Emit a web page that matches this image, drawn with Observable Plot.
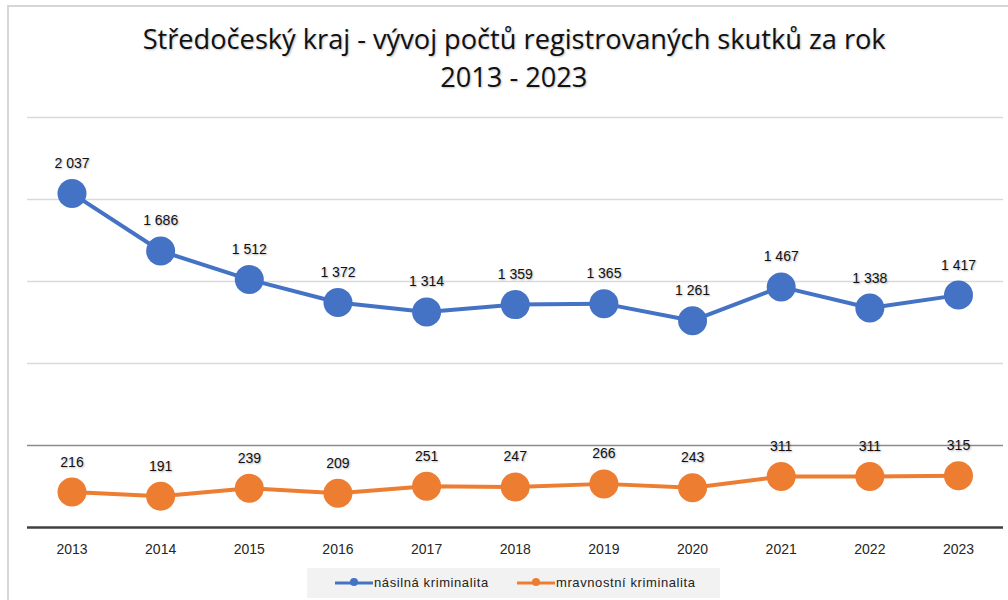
<!DOCTYPE html>
<html>
<head>
<meta charset="utf-8">
<script src="https://cdn.jsdelivr.net/npm/d3@7"></script>
<script src="https://cdn.jsdelivr.net/npm/@observablehq/plot@0.6"></script>
<style>
  html, body { margin: 0; padding: 0; background: #fff; }
  body { width: 1008px; height: 600px; overflow: hidden; position: relative; font-family: "Open Sans", "Liberation Sans", sans-serif; }
  #frame { position: absolute; left: 7px; top: 5px; width: 1100px; height: 700px; border-left: 2px solid #d6d6d6; border-top: 2px solid #d6d6d6; }
  #title { position: relative; height: 100px; }
  .tline { position: absolute; left: 10px; width: 1008px; text-align: center; font-size: 26.5px; line-height: 1; color: #111; }
  .tline span { display: inline-block; transform-origin: center; white-space: nowrap; text-shadow: 1px 1px 2px rgba(0,0,0,0.25); }
  #chart { position: relative; height: 465px; }
  #chart svg { display: block; }
  #chart g[aria-label="text"] text { text-shadow: 1px 1px 2px rgba(0,0,0,0.3); }
  #legend { position: absolute; left: 307px; top: 568px; width: 413px; height: 30px; background: #f2f2f2; font-family: "Liberation Sans", sans-serif; font-size: 13px; letter-spacing: 0.6px; color: #222; }
  .sw { position: absolute; top: 10px; }
  .lt { position: absolute; top: 7px; white-space: nowrap; }
</style>
</head>
<body>
<div id="frame"></div>
<div id="title"></div>
<div id="chart"></div>
<div id="legend"></div>
<script>
// ---- data ----
const titleLines = ["Středočeský kraj - vývoj počtů registrovaných skutků za rok", "2013 - 2023"];
const years = [2013, 2014, 2015, 2016, 2017, 2018, 2019, 2020, 2021, 2022, 2023];
const nasilna = [2037, 1686, 1512, 1372, 1314, 1359, 1365, 1261, 1467, 1338, 1417];
const mravnostni = [216, 191, 239, 209, 251, 247, 266, 243, 311, 311, 315];
const seriesNames = ["násilná kriminalita", "mravnostní kriminalita"];
const seriesColors = ["#4472C4", "#ED7D31"];
const gridLight = [1000, 1500, 2000, 2500];
const gridMid = [500];

// ---- title ----
const title = document.getElementById("title");
const titleTops = [25.5, 63.5];
const targetW = 743;
let scale = 1;
titleLines.forEach((t, i) => {
  const d = document.createElement("div");
  d.className = "tline";
  d.style.top = titleTops[i] + "px";
  const s = document.createElement("span");
  s.textContent = t;
  d.appendChild(s);
  title.appendChild(d);
  if (i === 0) scale = targetW / s.getBoundingClientRect().width;
});
title.querySelectorAll(".tline span").forEach(s => s.style.transform = `scaleX(${scale})`);

// ---- chart ----
const cz = d3.formatLocale({decimal: ",", thousands: "\u00a0", grouping: [3], currency: ["", " Kč"]});
const fmt = cz.format(",d");
const rowsA = years.map((y, i) => ({year: y, value: nasilna[i]}));
const rowsB = years.map((y, i) => ({year: y, value: mravnostni[i]}));

const chart = Plot.plot({
  width: 1008,
  height: 465,
  marginTop: 17,
  marginBottom: 38,
  marginLeft: 27,
  marginRight: 5,
  style: {fontFamily: "Liberation Sans, sans-serif", background: "transparent", overflow: "visible"},
  x: {type: "point", domain: years, padding: 0, round: false, range: [71.5, 958], label: null},
  y: {domain: [0, 2500], axis: null},
  marks: [
    Plot.ruleY(gridLight, {stroke: "#d9d9d9", strokeWidth: 1.5}),
    Plot.ruleY(gridMid, {stroke: "#8c8c8c", strokeWidth: 1.5}),
    Plot.ruleY([0], {stroke: "#404040", strokeWidth: 2.5}),
    Plot.axisX({tickSize: 0, tickPadding: 17, fontSize: 14, fill: "#262626", label: null, tickFormat: d => String(d)}),
    Plot.line(rowsA, {x: "year", y: "value", stroke: seriesColors[0], strokeWidth: 4}),
    Plot.dot(rowsA, {x: "year", y: "value", r: 14.5, fill: seriesColors[0]}),
    Plot.text(rowsA, {x: "year", y: "value", text: d => fmt(d.value), dy: -30, fontSize: 14, fill: "#111"}),
    Plot.line(rowsB, {x: "year", y: "value", stroke: seriesColors[1], strokeWidth: 4}),
    Plot.dot(rowsB, {x: "year", y: "value", r: 14.5, fill: seriesColors[1]}),
    Plot.text(rowsB, {x: "year", y: "value", text: d => fmt(d.value), dy: -30, fontSize: 14, fill: "#111"})
  ]
});
document.getElementById("chart").appendChild(chart);

// ---- legend ----
const legend = document.getElementById("legend");
const swLeft = [28, 210];
seriesNames.forEach((name, i) => {
  const sw = document.createElementNS("http://www.w3.org/2000/svg", "svg");
  sw.setAttribute("width", 38);
  sw.setAttribute("height", 10);
  sw.setAttribute("class", "sw");
  sw.style.left = swLeft[i] + "px";
  sw.innerHTML = `<line x1="0" x2="38" y1="5" y2="5" stroke="${seriesColors[i]}" stroke-width="3"/><circle cx="19" cy="4" r="4" fill="${seriesColors[i]}"/>`;
  legend.appendChild(sw);
  const t = document.createElement("div");
  t.className = "lt";
  t.style.left = (swLeft[i] + 39) + "px";
  t.textContent = name;
  legend.appendChild(t);
});
</script>
</body>
</html>
